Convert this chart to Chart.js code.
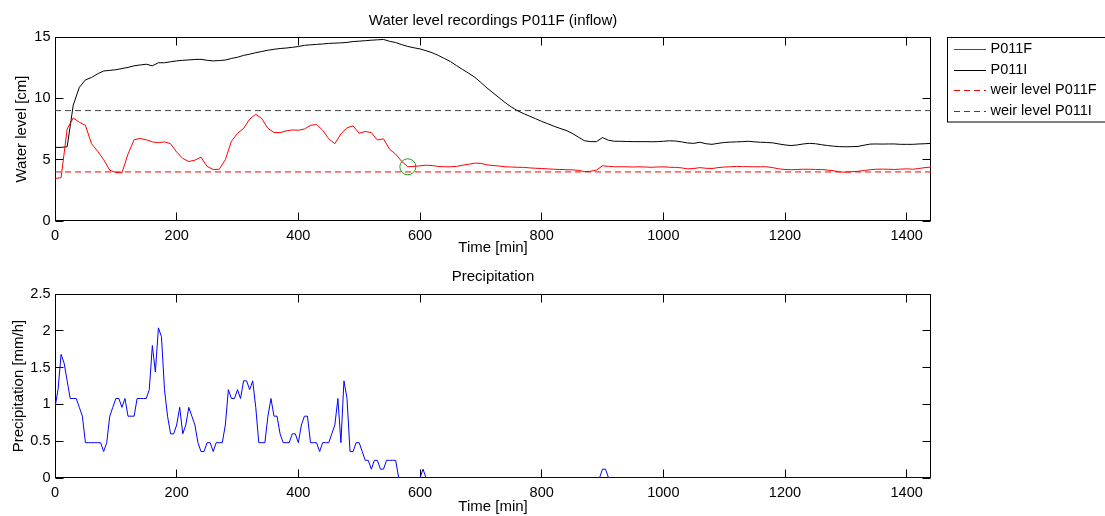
<!DOCTYPE html>
<html><head><meta charset="utf-8">
<script src="https://cdn.jsdelivr.net/npm/chart.js@4.4.1/dist/chart.umd.min.js"></script>
<style>
html,body{margin:0;padding:0;background:#fff;}
#wrap{position:relative;width:1105px;height:516px;overflow:hidden;background:#fff}
canvas{position:absolute;left:0}
#c1{top:0}
#c2{top:258px}
</style></head><body>
<div id="wrap"><canvas id="c1" width="1105" height="258"></canvas><canvas id="c2" width="1105" height="258"></canvas></div>
<script>
// ---------- DATA ----------
const waterTime = [0,10,20,30,40,50,60,70,80,90,100,110,120,130,140,150,160,170,180,190,200,210,220,230,240,250,260,270,280,290,300,310,320,330,340,350,360,370,380,390,400,410,420,430,440,450,460,470,480,490,500,510,520,530,540,550,560,570,580,590,600,610,620,630,640,650,660,670,680,690,700,710,720,730,740,750,760,770,780,790,800,810,820,830,840,850,860,870,880,890,900,910,920,930,940,950,960,970,980,990,1000,1010,1020,1030,1040,1050,1060,1070,1080,1090,1100,1110,1120,1130,1140,1150,1160,1170,1180,1190,1200,1210,1220,1230,1240,1250,1260,1270,1280,1290,1300,1310,1320,1330,1340,1350,1360,1370,1380,1390,1400,1410,1420,1430,1440];

const levelP011F = [
3.46,3.54,7.5,8.4,8.05,7.8,6.3,5.7,5.0,4.14,
3.95,3.92,5.45,6.62,6.73,6.62,6.45,6.38,6.45,6.3,
5.62,5.1,4.85,4.96,5.2,4.45,4.2,4.22,5.0,6.5,
7.15,7.55,8.3,8.7,8.35,7.55,7.22,7.2,7.35,7.42,
7.4,7.5,7.8,7.87,7.4,6.7,6.3,7.1,7.6,7.75,
7.15,7.3,7.2,6.6,6.7,5.85,5.45,4.85,4.42,4.45,
4.5,4.55,4.52,4.45,4.42,4.42,4.45,4.55,4.62,4.72,
4.7,4.58,4.52,4.48,4.42,4.4,4.38,4.37,4.33,4.3,
4.28,4.25,4.22,4.2,4.18,4.17,4.13,4.03,4.05,4.15,
4.5,4.45,4.42,4.42,4.42,4.4,4.42,4.4,4.38,4.4,
4.42,4.38,4.37,4.33,4.25,4.28,4.35,4.3,4.28,4.35,
4.4,4.42,4.45,4.43,4.43,4.42,4.42,4.42,4.35,4.25,
4.2,4.18,4.2,4.22,4.22,4.2,4.2,4.15,4.1,4.0,
3.98,4.02,4.05,4.12,4.18,4.22,4.23,4.22,4.2,4.23,
4.25,4.22,4.28,4.35,4.4];

const levelP011I = [
6.0,6.0,6.05,9.45,10.9,11.5,11.7,12.0,12.23,12.28,
12.33,12.43,12.52,12.65,12.72,12.78,12.65,12.9,12.9,12.98,
13.05,13.1,13.13,13.17,13.18,13.1,13.05,13.08,13.12,13.25,
13.35,13.5,13.6,13.72,13.82,13.92,14.0,14.06,14.1,14.16,
14.22,14.32,14.36,14.4,14.43,14.48,14.5,14.52,14.56,14.63,
14.66,14.7,14.74,14.77,14.8,14.65,14.55,14.38,14.23,14.12,
14.03,13.88,13.72,13.5,13.25,13.0,12.67,12.35,12.05,11.72,
11.3,10.85,10.45,10.05,9.65,9.3,9.0,8.76,8.55,8.34,
8.12,7.93,7.73,7.55,7.39,7.15,6.85,6.55,6.47,6.47,
6.8,6.58,6.5,6.5,6.48,6.47,6.47,6.47,6.46,6.47,
6.5,6.54,6.52,6.45,6.36,6.33,6.42,6.3,6.25,6.33,
6.4,6.43,6.45,6.47,6.5,6.45,6.42,6.4,6.37,6.28,
6.2,6.15,6.2,6.28,6.33,6.3,6.22,6.15,6.1,6.06,
6.05,6.06,6.08,6.18,6.27,6.28,6.27,6.28,6.28,6.25,
6.25,6.25,6.28,6.3,6.33];

const weirP011F = 4;
const weirP011I = 9;
const timeRange = [0, 1440];
const markerTime = 580;
const markerLevel = 4.42;

const precipTime = [0,5,10,15,20,25,30,35,40,45,50,55,60,65,70,75,80,85,90,95,100,105,110,115,120,125,130,135,140,145,150,155,160,165,170,175,180,185,190,195,200,205,210,215,220,225,230,235,240,245,250,255,260,265,270,275,280,285,290,295,300,305,310,315,320,325,330,335,340,345,350,355,360,365,370,375,380,385,390,395,400,405,410,415,420,425,430,435,440,445,450,455,460,465,470,475,480,485,490,495,500,505,510,515,520,525,530,535,540,545,550,555,560,565,600,605,610,895,900,905,910,1440];
const precipValue = [
0.96,1.2,1.68,1.56,1.32,1.08,1.08,1.08,0.96,0.84,
0.48,0.48,0.48,0.48,0.48,0.48,0.36,0.48,0.84,0.96,
1.08,1.08,0.96,1.08,0.84,0.84,0.84,1.08,1.08,1.08,
1.08,1.2,1.8,1.44,2.04,1.92,1.2,0.84,0.6,0.6,
0.72,0.96,0.6,0.72,0.96,0.84,0.72,0.48,0.36,0.36,
0.48,0.48,0.36,0.48,0.48,0.48,0.72,1.2,1.08,1.08,
1.2,1.08,1.32,1.32,1.2,1.32,0.96,0.48,0.48,0.48,
0.84,1.08,0.84,0.84,0.6,0.48,0.48,0.48,0.6,0.6,
0.48,0.72,0.84,0.84,0.48,0.48,0.48,0.36,0.48,0.48,
0.48,0.6,0.72,1.08,0.48,1.32,1.08,0.36,0.36,0.48,
0.48,0.36,0.24,0.24,0.12,0.24,0.24,0.12,0.12,0.24,
0.24,0.24,0.24,0,
0,0.12,0,0,0.12,0.12,0,0];

const timeTicks = [0,200,400,600,800,1000,1200,1400];
const levelTicks = [0,5,10,15];
const precipTicks = [0,0.5,1,1.5,2,2.5];

// ---------- STYLE / PLUGINS ----------
const FONT = "'Liberation Sans', Arial, Helvetica, sans-serif";
Chart.defaults.font.family = FONT;
Chart.defaults.color = '#000';

const framePlugin = {
  id: 'frame',
  beforeDatasetsDraw(chart) {
    const {ctx, chartArea: a, scales} = chart;
    const x = scales.x, y = scales.y;
    const L = 8;
    const l = a.left + 0.5, r = a.right - 0.5, t = a.top + 0.5, b = a.bottom - 0.5;
    ctx.save();
    ctx.strokeStyle = '#000';
    ctx.lineWidth = 1;
    ctx.beginPath();
    x.ticks.forEach(tk => {
      const p = Math.floor(x.getPixelForValue(tk.value)) + 0.5;
      ctx.moveTo(p, b); ctx.lineTo(p, b - L);
      ctx.moveTo(p, t); ctx.lineTo(p, t + L);
    });
    y.ticks.forEach(tk => {
      const p = Math.floor(y.getPixelForValue(tk.value)) + 0.5;
      ctx.moveTo(l, p); ctx.lineTo(l + L, p);
      ctx.moveTo(r, p); ctx.lineTo(r - L, p);
    });
    ctx.stroke();
    ctx.strokeRect(l, t, r - l, b - t);
    ctx.restore();
  }
};

const boxLegendPlugin = {
  id: 'boxLegend',
  afterDraw(chart, args, o) {
    if (!o || !o.display) return;
    const ctx = chart.ctx;
    ctx.save();
    ctx.lineWidth = 1;
    ctx.strokeStyle = '#000';
    ctx.strokeRect(o.left, o.top, o.width, o.height);
    ctx.font = o.fontSize + 'px ' + FONT;
    ctx.textBaseline = 'middle';
    ctx.textAlign = 'left';
    let row = 0;
    chart.data.datasets.forEach(ds => {
      if (!ds.label) return;
      const yy = o.firstRow + row * o.rowGap;
      const yl = Math.round(yy) + 0.5;
      ctx.beginPath();
      ctx.setLineDash(ds.borderDash || []);
      ctx.strokeStyle = ds.borderColor;
      ctx.lineWidth = ds.borderWidth || 1;
      ctx.moveTo(o.lineX0, yl); ctx.lineTo(o.lineX1, yl);
      ctx.stroke();
      ctx.setLineDash([]);
      ctx.fillStyle = '#000';
      ctx.fillText(ds.label, o.textX, yy);
      row++;
    });
    ctx.restore();
  }
};

function pts(xs, ys) { return xs.map((t, i) => ({x: t, y: ys[i]})); }
function setTicks(vals) { return s => { s.ticks = vals.map(v => ({value: v})); }; }

const tickFont = {size: 14.5};
const titleFont = {size: 15, weight: 'normal'};

function axes(yMin, yMax, yTicks, yTitle, xHeight, xTitlePadBottom, yTitlePad) {
  return {
    x: {
      type: 'linear', min: timeRange[0], max: timeRange[1],
      afterBuildTicks: setTicks(timeTicks),
      afterFit: s => { s.height = xHeight; },
      grid: {display: false, drawTicks: false}, border: {display: false},
      ticks: {font: tickFont, padding: 6.5, maxRotation: 0, color: '#000', callback: v => String(v)},
      title: {display: true, text: 'Time [min]', font: titleFont, color: '#000', padding: {top: 0, bottom: xTitlePadBottom}}
    },
    y: {
      type: 'linear', min: yMin, max: yMax,
      afterBuildTicks: setTicks(yTicks),
      afterFit: s => { s.width = 55; },
      grid: {display: false, drawTicks: false}, border: {display: false},
      ticks: {font: tickFont, padding: 4.5, color: '#000', callback: v => String(v)},
      title: {display: true, text: yTitle, font: titleFont, color: '#000', padding: {top: yTitlePad, bottom: 0}}
    }
  };
}

// ---------- TOP CHART ----------
new Chart(document.getElementById('c1'), {
  type: 'line',
  data: {
    datasets: [
      {label: 'P011F', data: pts(waterTime, levelP011F), borderColor: '#ff0000', borderWidth: 1, pointRadius: 0, tension: 0},
      {label: 'P011I', data: pts(waterTime, levelP011I), borderColor: '#000000', borderWidth: 1, pointRadius: 0, tension: 0},
      {label: 'weir level P011F', data: pts(timeRange, [weirP011F, weirP011F]), borderColor: '#ff0000', borderWidth: 1, borderDash: [6, 4], pointRadius: 0},
      {label: 'weir level P011I', data: pts(timeRange, [weirP011I, weirP011I]), borderColor: '#444444', borderWidth: 1, borderDash: [6, 4], pointRadius: 0},
      {label: '', data: [{x: markerTime, y: markerLevel}], showLine: false, pointRadius: 8, pointHoverRadius: 8,
       pointBorderColor: '#1f9a1f', pointBackgroundColor: 'rgba(0,0,0,0)', pointBorderWidth: 1}
    ]
  },
  options: {
    responsive: false, devicePixelRatio: 1, animation: false, events: [],
    layout: {padding: {left: 0, right: 174, top: 0, bottom: 0}},
    plugins: {
      legend: {display: false}, tooltip: {enabled: false},
      title: {display: true, text: 'Water level recordings P011F (inflow)', font: titleFont, color: '#000', padding: {top: 11.7, bottom: 7.3}, fullSize: false},
      boxLegend: {display: true, left: 947.5, top: 37.5, width: 170, height: 84.5, fontSize: 14.5,
        firstRow: 49, rowGap: 20.5, lineX0: 954, lineX1: 986, textX: 990.5}
    },
    scales: axes(0, 15, levelTicks, 'Water level [cm]', 37, 1.5, 13)
  },
  plugins: [framePlugin, boxLegendPlugin]
});

// ---------- BOTTOM CHART ----------
new Chart(document.getElementById('c2'), {
  type: 'line',
  data: {
    datasets: [
      {label: 'Precipitation', data: pts(precipTime, precipValue), borderColor: '#0000ff', borderWidth: 1, pointRadius: 0, tension: 0}
    ]
  },
  options: {
    responsive: false, devicePixelRatio: 1, animation: false, events: [],
    layout: {padding: {left: 0, right: 174, top: 0, bottom: 0}},
    plugins: {
      legend: {display: false}, tooltip: {enabled: false},
      title: {display: true, text: 'Precipitation', font: titleFont, color: '#000', padding: {top: 9.5, bottom: 8.5}, fullSize: false},
      boxLegend: {display: false}
    },
    scales: axes(0, 2.5, precipTicks, 'Precipitation [mm/h]', 38, 0.5, 9.5)
  },
  plugins: [framePlugin, boxLegendPlugin]
});
</script>
</body></html>
